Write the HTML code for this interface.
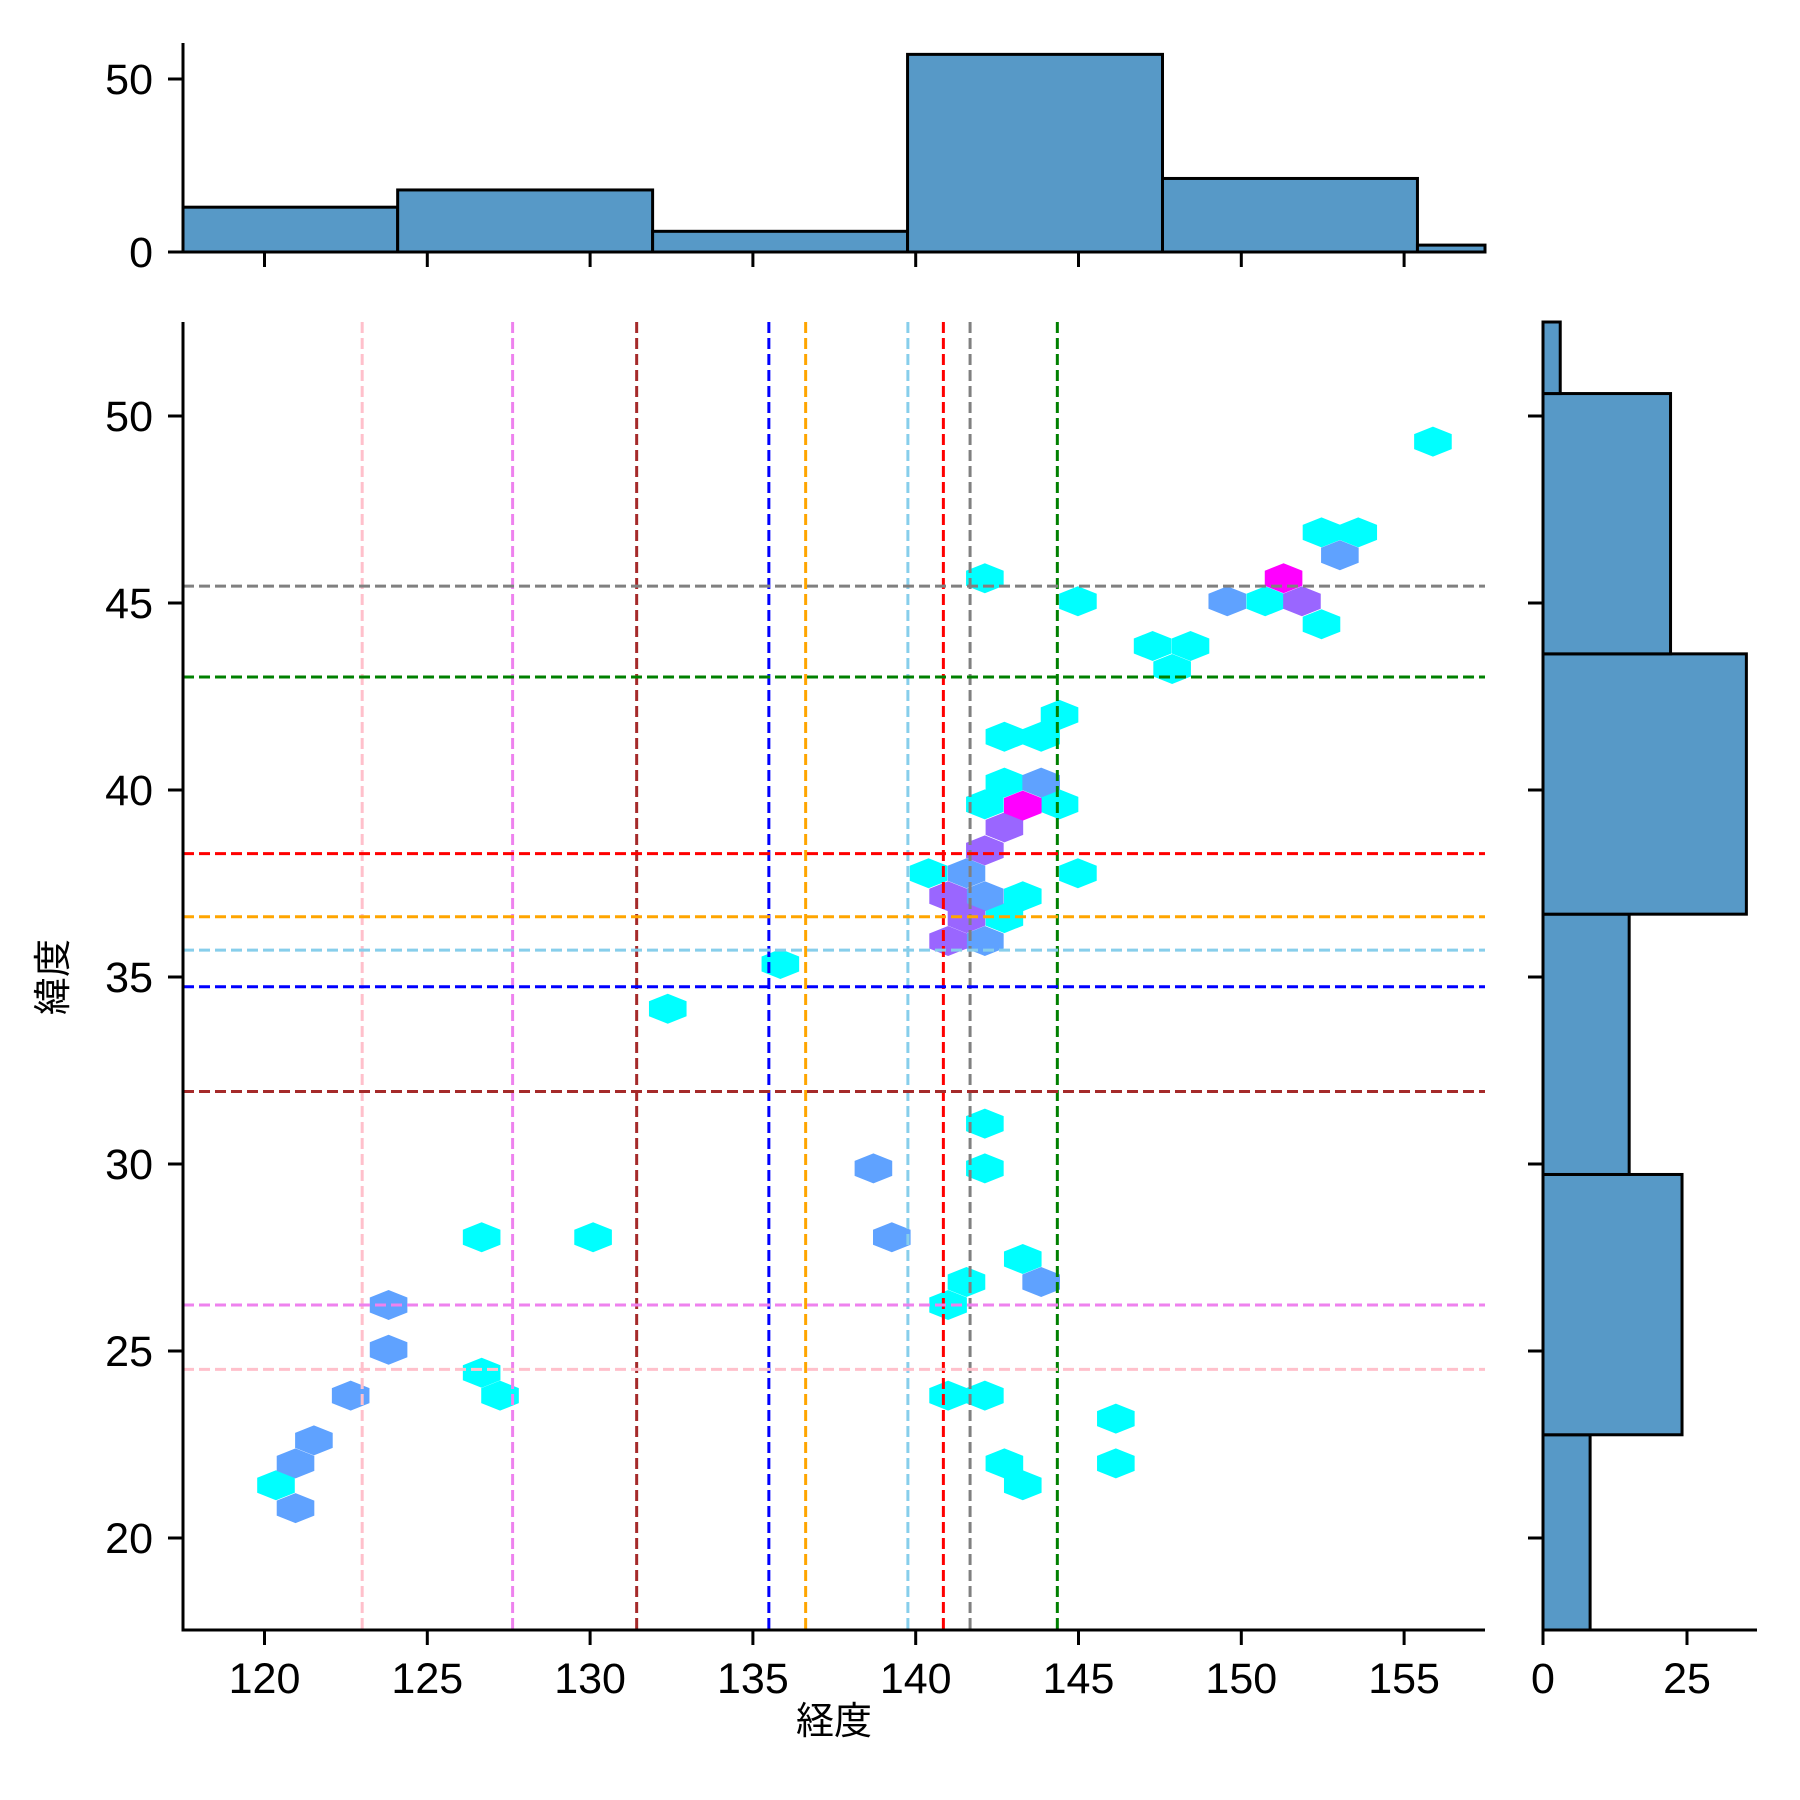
<!DOCTYPE html>
<html><head><meta charset="utf-8">
<style>html,body{margin:0;padding:0;background:#fff}svg{display:block}</style>
</head><body>
<svg id="s" width="1800" height="1800" viewBox="0 0 1800 1800" xmlns="http://www.w3.org/2000/svg" font-family="Liberation Sans, Noto Sans CJK JP, sans-serif"></svg>
<script>
const s=document.getElementById('s');let h='';
const X=lon=>264.5+(lon-120)*32.56, Y=lat=>1538-(lat-20)*37.4;
const L=183,R=1485,T=322,B=1630;
const sx=x=>264.5+(x-230)*1.1489, sy=y=>1538+(y-1339)*1.148;
const hx=[
['#00ffff',[[1247,384],[1150,463],[1182,463],[857,503],[938,523],[1101,523],[1150,543],[1003,562],[1036,562],[1020,582],[922,622],[874,641],[906,641],[874,681],[857,700],[922,700],[808,760],[938,760],[890,780],[874,799],[679,839],[581,878],[857,978],[857,1017],[419,1077],[516,1077],[890,1096],[841,1116],[825,1136],[419,1195],[435,1215],[825,1215],[857,1215],[971,1235],[874,1274],[971,1274],[890,1293],[240,1293]]],
['#5fa2ff',[[1166,483],[1068,523],[906,681],[841,760],[857,780],[857,819],[760,1017],[776,1077],[906,1116],[338,1136],[338,1175],[305,1215],[273,1254],[257,1274],[257,1313]]],
['#9a66ff',[[1133,523],[874,720],[825,780],[841,799],[825,819],[857,740]]],
['#ff00ff',[[1117,503],[890,701]]]];
const w=18.8,hh=15;
for(const [c,pts] of hx)for(const [a,b] of pts){const x=sx(a),y=sy(b);
h+=`<polygon fill="${c}" points="${x},${y-hh} ${x+w},${y-hh/2} ${x+w},${y+hh/2} ${x},${y+hh} ${x-w},${y+hh/2} ${x-w},${y-hh/2}"/>`;}
const vl=[['pink',123.0],['violet',127.62],['brown',131.43],['blue',135.49],['orange',136.62],['skyblue',139.76],['red',140.85],['gray',141.67],['green',144.35]];
const hl=[['gray',45.45],['green',43.02],['red',38.3],['orange',36.61],['skyblue',35.72],['blue',34.74],['brown',31.94],['violet',26.23],['pink',24.51]];
for(const [c,v] of vl)h+=`<line x1="${X(v)}" x2="${X(v)}" y1="${T}" y2="${B}" stroke="${c}" stroke-width="3" stroke-dasharray="11,5"/>`;
for(const [c,v] of hl)h+=`<line x1="${L}" x2="${R}" y1="${Y(v)}" y2="${Y(v)}" stroke="${c}" stroke-width="3" stroke-dasharray="11,5"/>`;
h+=`<path d="M${L},${T}V${B}H${R}" fill="none" stroke="#000" stroke-width="3"/>`;
for(let v=120;v<=155;v+=5){const x=X(v);h+=`<line x1="${x}" x2="${x}" y1="${B}" y2="${B+15}" stroke="#000" stroke-width="3"/><text x="${x}" y="1693" font-size="43" text-anchor="middle">${v}</text>`;
h+=`<line x1="${x}" x2="${x}" y1="252" y2="267" stroke="#000" stroke-width="3"/>`;}
for(let v=20;v<=50;v+=5){const y=Y(v);h+=`<line x1="${L}" x2="${L-15}" y1="${y}" y2="${y}" stroke="#000" stroke-width="3"/><text x="153" y="${y+15}" font-size="43" text-anchor="end">${v}</text>`;
h+=`<line x1="1543" x2="1528" y1="${y}" y2="${y}" stroke="#000" stroke-width="3"/>`;}
h+=`<text x="834" y="1734" font-size="38" text-anchor="middle">経度</text>`;
h+=`<text transform="translate(66,977) rotate(-90)" font-size="38" text-anchor="middle">緯度</text>`;
const te=[116.26,124.09,131.92,139.75,147.58,155.41,163.24],tt=[180,165,201,47,155,213];
for(let i=0;i<6;i++){let a=Math.max(X(te[i]),L),b=Math.min(X(te[i+1]),R);const y=252+(tt[i]-219)*1.149;
h+=`<rect x="${a}" y="${y}" width="${b-a}" height="${252-y}" fill="#5799c7" stroke="#000" stroke-width="3"/>`;}
h+=`<path d="M${L},43V252H${R}" fill="none" stroke="#000" stroke-width="3"/>`;
h+=`<line x1="${L}" x2="${L-15}" y1="252" y2="252" stroke="#000" stroke-width="3"/><text x="153" y="267" font-size="43" text-anchor="end">0</text>`;
h+=`<line x1="${L}" x2="${L-15}" y1="79" y2="79" stroke="#000" stroke-width="3"/><text x="153" y="94" font-size="43" text-anchor="end">50</text>`;
const re=[15.8,22.76,29.72,36.68,43.64,50.6,57.56],rr=[1384,1464,1418,1520,1454,1358];
for(let i=0;i<6;i++){let a=Math.min(Y(re[i]),B),b=Math.max(Y(re[i+1]),T);const x=1543+(rr[i]-1343)*1.149;
h+=`<rect x="1543" y="${b}" width="${x-1543}" height="${a-b}" fill="#5799c7" stroke="#000" stroke-width="3"/>`;}
h+=`<path d="M1543,${T}V${B}H1757" fill="none" stroke="#000" stroke-width="3"/>`;
for(const [v,x] of [[0,1543],[25,1687]])h+=`<line x1="${x}" x2="${x}" y1="${B}" y2="${B+15}" stroke="#000" stroke-width="3"/><text x="${x}" y="1693" font-size="43" text-anchor="middle">${v}</text>`;
s.innerHTML=h;
</script>
</body></html>
